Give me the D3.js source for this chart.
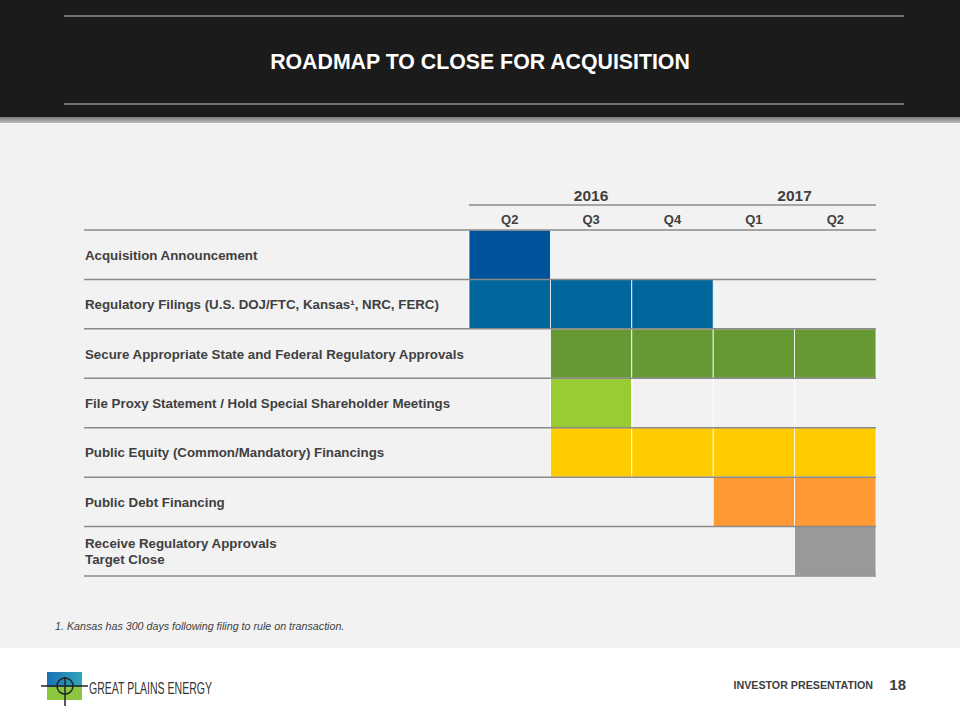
<!DOCTYPE html>
<html><head><meta charset="utf-8">
<script src="https://cdn.jsdelivr.net/npm/d3@7"></script>
<style>body{margin:0;background:#fff}svg{display:block}text{font-family:"Liberation Sans",Arial,sans-serif}</style>
</head><body><div id="c"></div>
<script>
const quarters = ["Q2","Q3","Q4","Q1","Q2"];
const quarterKeys = ["2016Q2","2016Q3","2016Q4","2017Q1","2017Q2"];
const years = [{label:"2016", from:0, to:2},{label:"2017", from:3, to:4}];
const tasks = [
  "Acquisition Announcement",
  "Regulatory Filings (U.S. DOJ/FTC, Kansas\u00B9, NRC, FERC)",
  "Secure Appropriate State and Federal Regulatory Approvals",
  "File Proxy Statement / Hold Special Shareholder Meetings",
  "Public Equity (Common/Mandatory) Financings",
  "Public Debt Financing",
  "Receive Regulatory Approvals\nTarget Close"
];
const taskStart = [0,0,1,1,1,3,4];
const taskEnd   = [0,2,4,1,4,4,4];
const taskColors = ["#00529b","#00669b","#669933","#99cc33","#ffcc00","#ff9933","#999999"];
const footnote = "1. Kansas has 300 days following filing to rule on transaction.";

const W=960,H=720;
const svg=d3.select("#c").append("svg").attr("width",W).attr("height",H);

// header
svg.append("rect").attr("x",0).attr("y",0).attr("width",W).attr("height",118).attr("fill","#1b1b1b");
const g=svg.append("defs").append("linearGradient").attr("id","sh").attr("x1",0).attr("y1",0).attr("x2",0).attr("y2",1);
g.append("stop").attr("offset",0).attr("stop-color","#7a7a7a");
g.append("stop").attr("offset",1).attr("stop-color","#bdbdbd");
svg.append("rect").attr("x",0).attr("y",117).attr("width",W).attr("height",6).attr("fill","url(#sh)");
[16,104].forEach(y=>svg.append("line").attr("x1",64).attr("x2",904).attr("y1",y).attr("y2",y).attr("stroke","#8c8c8c").attr("stroke-width",1.5));
svg.append("text").attr("x",480).attr("y",69).attr("text-anchor","middle").attr("fill","#fff")
  .attr("font-size",21.3).attr("font-weight","bold").text("ROADMAP TO CLOSE FOR ACQUISITION");

// panel
svg.append("rect").attr("x",0).attr("y",123).attr("width",W).attr("height",525).attr("fill","#f2f2f2");

const x=d3.scaleBand().domain(quarterKeys).range([469,876]).paddingInner(0);
const y=d3.scaleBand().domain(d3.range(tasks.length)).range([230,576]);

// cells
tasks.forEach((t,i)=>{
  const cells=d3.range(taskStart[i],taskEnd[i]+1);
  svg.append("g").selectAll("rect").data(cells).join("rect")
    .attr("x",q=>x(quarterKeys[q])).attr("y",y(i))
    .attr("width",x.bandwidth()).attr("height",y.bandwidth())
    .attr("fill",taskColors[i]).attr("stroke","#ffffff").attr("stroke-width",0.8);
});
// faint column separators in empty cells
svg.append("g").selectAll("line").data(d3.range(1,quarterKeys.length)).join("line")
  .attr("x1",q=>x(quarterKeys[q])).attr("x2",q=>x(quarterKeys[q]))
  .attr("y1",y(3)).attr("y2",y(4)).attr("stroke","#ffffff").attr("stroke-width",1);

// row lines
svg.append("g").selectAll("line").data(d3.range(tasks.length+1)).join("line")
  .attr("x1",84).attr("x2",876)
  .attr("y1",i=>i<tasks.length?y(i):y(tasks.length-1)+y.bandwidth())
  .attr("y2",i=>i<tasks.length?y(i):y(tasks.length-1)+y.bandwidth())
  .attr("stroke","#8a8a8a").attr("stroke-width",1.5);

// year line
svg.append("line").attr("x1",469).attr("x2",876).attr("y1",205).attr("y2",205).attr("stroke","#8a8a8a").attr("stroke-width",1.5);
svg.append("g").selectAll("text").data(years).join("text")
  .attr("x",d=>(x(quarterKeys[d.from])+x(quarterKeys[d.to])+x.bandwidth())/2)
  .attr("y",201).attr("text-anchor","middle").attr("fill","#404040")
  .attr("font-size",15.5).attr("font-weight","bold").text(d=>d.label);
svg.append("g").selectAll("text").data(quarters).join("text")
  .attr("x",(d,i)=>x(quarterKeys[i])+x.bandwidth()/2).attr("y",224)
  .attr("text-anchor","middle").attr("fill","#404040")
  .attr("font-size",13).attr("font-weight","bold").text(d=>d);

// row labels
tasks.forEach((t,i)=>{
  const lines=t.split("\n");
  const cy=y(i)+y.bandwidth()/2;
  const tx=svg.append("text").attr("x",85).attr("fill","#404040").attr("font-size",13.3).attr("font-weight","bold");
  lines.forEach((l,k)=>tx.append("tspan").attr("x",85)
    .attr("y",cy+5+(k-(lines.length-1)/2)*16).text(l));
});

// footnote
svg.append("text").attr("x",55).attr("y",630).attr("fill","#404040").attr("font-size",10.7)
  .attr("font-style","italic").text(footnote);

// footer
svg.append("text").attr("x",873).attr("y",689).attr("text-anchor","end").attr("fill","#404040")
  .attr("font-size",10.7).attr("font-weight","bold").text("INVESTOR PRESENTATION");
svg.append("text").attr("x",906).attr("y",690).attr("text-anchor","end").attr("fill","#404040")
  .attr("font-size",15).attr("font-weight","bold").text("18");

// logo
const lg=svg.append("g");
const lgr=svg.select("defs").append("linearGradient").attr("id","lb").attr("x1",0).attr("y1",0).attr("x2",1).attr("y2",0);
lgr.append("stop").attr("offset",0).attr("stop-color","#1a6fb5");
lgr.append("stop").attr("offset",1).attr("stop-color","#2fa6b8");
lg.append("rect").attr("x",47).attr("y",672).attr("width",35).attr("height",15).attr("fill","url(#lb)");
lg.append("rect").attr("x",47).attr("y",687).attr("width",35).attr("height",13).attr("fill","#8cc63f");
lg.append("line").attr("x1",41).attr("x2",88).attr("y1",686).attr("y2",686).attr("stroke","#222").attr("stroke-width",1.5);
lg.append("circle").attr("cx",65).attr("cy",686).attr("r",8).attr("fill","none").attr("stroke","#222").attr("stroke-width",1.5);
lg.append("line").attr("x1",65).attr("x2",65).attr("y1",677).attr("y2",706).attr("stroke","#222").attr("stroke-width",1.5);
lg.append("text").attr("x",89).attr("y",694).attr("fill","#333").attr("font-size",17)
  .attr("font-family","'DejaVu Sans Condensed','DejaVu Sans',sans-serif").attr("font-weight",300)
  .attr("textLength",123).attr("lengthAdjust","spacingAndGlyphs").text("GREAT PLAINS ENERGY");
</script></body></html>
